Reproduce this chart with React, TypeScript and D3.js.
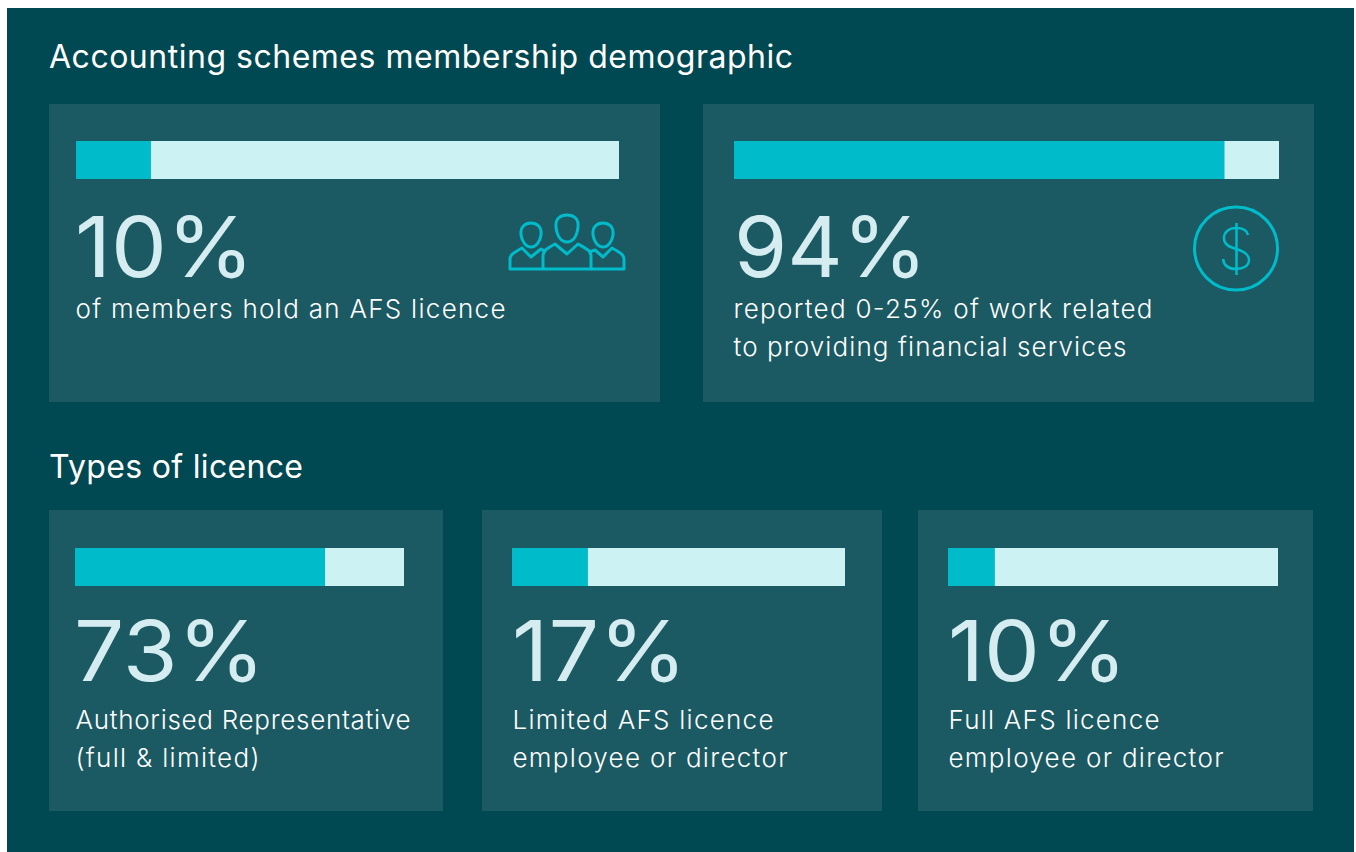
import React, { useEffect, useRef } from "react";
import * as d3 from "d3";

// values as printed on the cards
const topLabels = ["10%", "94%"];
const bottomLabels = ["73%", "17%", "10%"];
// filled share of each bar (the bars are not drawn to the printed number)
const topBars = [13.8, 90];
const bottomBars = [76, 22.8, 14.2];
const topCaptions = [
  ["of members hold an AFS licence"],
  ["reported 0-25% of work related", "to providing financial services"],
];
const bottomCaptions = [
  ["Authorised Representative", "(full & limited)"],
  ["Limited AFS licence", "employee or director"],
  ["Full AFS licence", "employee or director"],
];

const FONT = "Inter, 'Open Sans', sans-serif";
const BG = "#004852";
const CARD = "#1b5963";
const TEAL = "#00bccb";
const PALE = "#ccf2f3";
const BIG = "#d5edf0";

type Card = {
  x: number; y: number; w: number; h: number;
  barX: number; barW: number; barY: number;
  numX: number; numY: number; capY: number; textX: number;
  numW: number; capW: number[];
};

// the reference font isn't installed, so text widths are pinned with textLength
const topCards: Card[] = [
  { x: 49, y: 104, w: 611, h: 298, barX: 76, barW: 543, barY: 141, numX: 75, numY: 277, capY: 318, textX: 76, numW: 179, capW: [430] },
  { x: 703, y: 104, w: 611, h: 298, barX: 734, barW: 545, barY: 141, numX: 734, numY: 277, capY: 318, textX: 734, numW: 193, capW: [419, 393] },
];
const bottomCards: Card[] = [
  { x: 49, y: 510, w: 394, h: 301, barX: 75, barW: 329, barY: 548, numX: 74, numY: 681, capY: 729, textX: 76, numW: 191, capW: [335, 184] },
  { x: 482, y: 510, w: 400, h: 301, barX: 512, barW: 333, barY: 548, numX: 512, numY: 681, capY: 729, textX: 513, numW: 175, capW: [261, 275] },
  { x: 918, y: 510, w: 395, h: 301, barX: 948, barW: 330, barY: 548, numX: 948, numY: 681, capY: 729, textX: 949, numW: 179, capW: [211, 275] },
];

const drawCard = (svg: any, c: Card, pct: number, label: string, lines: string[]) => {
  const x = d3.scaleLinear().domain([0, 100]).range([c.barX, c.barX + c.barW]);
  svg.append("rect").attr("x", c.x).attr("y", c.y).attr("width", c.w).attr("height", c.h).attr("fill", CARD);
  svg.append("rect").attr("x", x(0)).attr("y", c.barY).attr("width", x(100) - x(0)).attr("height", 38).attr("fill", PALE);
  svg.append("rect").attr("x", x(0)).attr("y", c.barY).attr("width", x(pct) - x(0)).attr("height", 38).attr("fill", TEAL);
  svg.append("text")
    .attr("x", c.numX)
    .attr("y", c.numY)
    .attr("font-size", 84)
    .attr("font-weight", 400)
    .attr("textLength", c.numW)
    .attr("lengthAdjust", "spacingAndGlyphs")
    .attr("fill", BIG)
    .text(label);
  lines.forEach((line, i) => {
    svg.append("text")
      .attr("x", c.textX - 0.5)
      .attr("y", c.capY + i * 38)
      .attr("font-size", 26)
      .attr("font-weight", 300)
      .attr("textLength", c.capW[i])
      .attr("lengthAdjust", "spacing")
      .attr("fill", "#ffffff")
      .text(line);
  });
};

const App = () => {
  const ref = useRef<SVGSVGElement>(null);

  useEffect(() => {
    const svg = d3.select(ref.current);
    svg.selectAll("*").remove();
    svg.attr("font-family", FONT);

    svg.append("rect").attr("x", 7).attr("y", 8).attr("width", 1347).attr("height", 844).attr("fill", BG);

    svg.append("text").attr("x", 49).attr("y", 68).attr("font-size", 32).attr("font-weight", 400)
      .attr("textLength", 744).attr("lengthAdjust", "spacing").attr("fill", "#fff")
      .text("Accounting schemes membership demographic");
    svg.append("text").attr("x", 49).attr("y", 478).attr("font-size", 32).attr("font-weight", 400)
      .attr("textLength", 254).attr("lengthAdjust", "spacing").attr("fill", "#fff")
      .text("Types of licence");

    topCards.forEach((c, i) => drawCard(svg, c, topBars[i], topLabels[i], topCaptions[i]));
    bottomCards.forEach((c, i) => drawCard(svg, c, bottomBars[i], bottomLabels[i], bottomCaptions[i]));

    // people icon
    const people = svg.append("g").attr("fill", "none").attr("stroke", TEAL).attr("stroke-width", 3).attr("stroke-linejoin", "round");
    people.append("path").attr("d", "M556 227C555 219 560 215 567 215C574 215 579 219 578 227C577 236 573 242 567 242C561 242 557 236 556 227Z");
    people.append("path").attr("d", "M521 235C520 227 525 223 531 223C537 223 542 227 541 235C540 242 536 247 531 247C526 247 522 242 521 235Z");
    people.append("path").attr("d", "M593 235C592 227 597 223 603 223C609 223 614 227 613 235C612 242 608 247 603 247C598 247 594 242 593 235Z");
    people.append("path").attr("d", "M543 269V256C543 251 546 249 555 244L567 254L578 244C587 249 591 251 591 256V269Z");
    people.append("path").attr("d", "M542 269H510V259C510 255 513 253 522 248L531 257L541 249L546 252");
    people.append("path").attr("d", "M591 269H624V259C624 255 621 253 612 248L603 257L595 250L589 252");

    // dollar icon
    const dollar = svg.append("g").attr("fill", "none").attr("stroke", TEAL);
    dollar.append("circle").attr("cx", 1236).attr("cy", 248.5).attr("r", 41.5).attr("stroke-width", 3);
    dollar.append("path").attr("stroke-width", 2.5).attr("d", "M1236.5 223V275");
    dollar.append("path").attr("stroke-width", 2.5)
      .attr("d", "M1248 235C1247 230 1243 228 1236 228C1229 228 1224 232 1224 238C1224 245 1230 247 1236 249C1243 251 1249 254 1249 260C1249 266 1243 269 1236 269C1229 269 1224 266 1223 259");
  }, []);

  return <svg ref={ref} width={1356} height={852} style={{ position: "absolute", top: 0, left: 0, display: "block" }} />;
};

export default App;
